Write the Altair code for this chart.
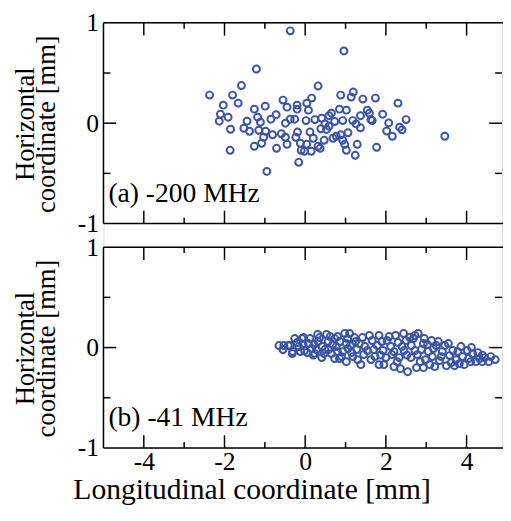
import altair as alt
import pandas as pd

# ---- data: panel (a) -200 MHz ----
a_x = [-2.37, -1.21, -1.58, -1.80, -1.66, -2.03, -2.10, -1.91, -2.13, -1.85, -1.86, -1.26, -0.99,
       -1.18, -1.44, -1.11, -1.52, -1.38, -1.15, -0.98, -1.03, -1.26, -1.08, -0.71, -0.95, -0.72,
       -0.85, -0.55, -0.45, -0.49, -0.37, -0.81, -0.59, -0.49, -0.45, -0.37, 0.96, 0.32, 0.88,
       1.19, 1.14, 1.43, 1.74, 2.30, 0.16, 0.04, -0.20, -0.20, 0.08, 0.85, 1.02, 0.65, 0.59,
       1.54, 1.59, 1.37, 1.92, 1.63, 1.66, 1.18, 0.93, 0.24, 0.41, -0.26, 0.02, 0.73, 0.49,
       0.59, 1.26, 1.37, 2.07, 2.50, 0.39, 0.53, -0.19, 0.12, 1.06, 2.02, 2.40, 2.34, 2.16,
       3.46, -0.23, 0.20, 0.77, 0.69, 0.88, 0.93, 0.47, -0.12, 0.04, -0.10, 0.15, -0.02, 0.32,
       0.37, 0.98, 1.02, 1.29, 1.24, 1.77, -0.16]
a_y = [0.28, 0.54, 0.375, 0.28, 0.20, 0.18, 0.09, 0.06, 0.02, -0.06, -0.27, 0.14, 0.17,
       0.06, 0.02, 0.01, -0.05, -0.08, -0.07, -0.08, -0.14, -0.23, -0.20, -0.25, -0.48, 0.085,
       0.04, 0.23, 0.16, 0.0, 0.04, -0.115, -0.105, -0.14, -0.21, 0.92, 0.72, 0.37, 0.28,
       0.31, 0.26, 0.24, 0.25, 0.20, 0.25, 0.20, 0.18, 0.14, 0.13, 0.14, 0.13, 0.10, 0.075,
       0.13, 0.10, 0.075, 0.09, 0.036, 0.026, 0.026, 0.026, 0.036, 0.05, 0.04, 0.026, 0.017, -0.007,
       -0.03, -0.007, -0.046, 0.003, 0.036, -0.056, -0.062, -0.088, -0.088, -0.095, -0.078, -0.066, -0.04, -0.13,
       -0.13, -0.14, -0.15, -0.13, -0.15, -0.115, -0.17, -0.17, -0.20, -0.21, -0.27, -0.28, -0.28, -0.23,
       -0.25, -0.21, -0.27, -0.21, -0.32, -0.24, -0.39]

# ---- data: panel (b) -41 MHz ----
b_x = [-0.65, -0.53, -0.42, -0.37, -0.32, -0.26, -0.31, -0.16, -0.08, -0.04, -0.02, -0.12, 0.08,
       0.16, 0.20, 0.31, 0.32, 0.24, 0.41, 0.53, 0.57, 0.49, 0.65, 0.73, 0.77, 0.73, 0.85, 0.80,
       0.98, 1.02, 0.93, 1.02, 1.10, 1.06, 1.18, 1.22, 1.34, 1.38, 1.59, 1.54, 1.63, 1.83, 1.79,
       1.87, 1.95, 1.83, 2.03, 2.24, 2.20, 2.28, 2.20, 2.36, 2.44, 2.40, 2.52, 2.54, 2.59, 2.68,
       2.72, 2.80, 2.85, 2.76, 2.93, 2.93, 3.13, 3.05, 3.09, 3.21, 3.25, 3.37, 3.46, 3.50, 3.66,
       3.70, 3.74, 3.86, 3.94, 4.02, 4.10, 4.15, 4.23, 4.39, 4.39, 4.55, 4.71,
       -0.55, -0.20, -0.05, 0.05, 0.12, 0.22, 0.28, 0.36, 0.42, 0.47, 0.58, 0.62, 0.68, 0.80,
       0.86, 0.90, 1.05, 1.12, 1.15, 1.25, 1.28, 1.30, 1.42, 1.45, 1.48, 1.66, 1.70, 1.73, 1.90,
       1.93, 2.00, 2.08, 2.12, 2.15, 2.30, 2.33, 2.45, 2.50, 2.62, 2.63, 2.72, 2.78, 2.88, 2.95,
       2.98, 3.03, 3.15, 3.18, 3.30, 3.33, 3.40, 3.55, 3.58, 3.62, 3.78, 3.82, 3.90, 4.05, 4.12,
       4.28, 4.32, 4.45, 4.60]
b_y = [0.02, 0.02, 0.02, 0.02, -0.06, 0.09, -0.04, 0.01, 0.09, 0.10, -0.03, -0.04, 0.04,
       -0.01, -0.075, 0.13, 0.06, -0.06, -0.10, 0.13, 0.06, -0.02, -0.06, 0.09, 0.01, -0.11, -0.11, 0.11,
       0.14, 0.04, -0.04, -0.14, 0.14, -0.01, -0.09, 0.10, 0.04, -0.17, 0.12, -0.03, -0.12, 0.12, 0.02,
       -0.075, -0.17, -0.17, 0.07, 0.12, -0.04, -0.14, -0.19, -0.21, 0.14, 0.01, -0.075, -0.24, 0.10, 0.09,
       -0.03, 0.14, -0.14, -0.20, 0.04, -0.20, 0.07, -0.04, -0.17, -0.19, 0.02, -0.09, 0.02, -0.18, -0.03,
       -0.18, -0.12, 0.01, -0.17, -0.03, -0.14, -0.06, -0.14, -0.075, -0.14, -0.14, -0.12,
       -0.02, 0.05, 0.03, -0.05, 0.09, 0.03, -0.02, 0.10, 0.01, -0.06, -0.02, 0.11, 0.03, -0.04,
       0.06, -0.09, 0.09, 0.02, -0.05, 0.06, -0.02, -0.12, 0.10, -0.07, 0.01, 0.07, -0.02, -0.09, 0.06,
       -0.03, -0.10, 0.11, 0.01, -0.07, 0.05, -0.10, -0.03, 0.07, -0.10, 0.02, 0.12, -0.07, -0.02, 0.09,
       -0.12, 0.03, -0.09, -0.01, 0.06, -0.13, -0.04, 0.04, -0.08, -0.15, -0.04, -0.16, -0.09, -0.11, 0.00,
       -0.05, -0.11, -0.10, -0.09]

# ---- axis ticks / labels / texts ----
x_label_values = [-4, -2, 0, 2, 4]
x_major_ticks = [-4, -2, 0, 2, 4]
x_minor_ticks = [-3, -1, 1, 3]
y_label_values = [-1, 0, 1]
y_major_ticks = [0]
y_minor_ticks = [-0.5, 0.5]
panel_labels = ["(a) -200 MHz", "(b) -41 MHz"]
x_title = "Longitudinal coordinate [mm]"
y_title = ["Horizontal", "coordinate [mm]"]

# ---- layout (pixels) ----
W = 405                 # plot width; frame's right edge is cut by the page edge
PH = 204                # height of one panel
GAP = 24                # gap between the two panels
HT = 2 * PH + GAP
OFF = 2 + GAP / (PH / 2)  # shift of panel (b) in the shared y coordinate
COLOR = "#3b54a5"
FONT = "Liberation Serif"
FS_TICK = 26
FS_YT = 27
FS_XT = 30
FS_PANEL = 28
MAJ, MIN = 13, 6
LW = 1.5

xscale = alt.Scale(domain=[-5, -5 + W / 41.0], nice=False, zero=False)
yscale = alt.Scale(domain=[-1 - OFF, 1], nice=False, zero=False)

x_axis = alt.Axis(values=x_label_values, ticks=False, domain=False, grid=False,
                  labelFont=FONT, labelFontSize=FS_TICK, labelColor="black", labelPadding=1,
                  labelFlush=False, labelOverlap=False, labelExpr="toString(datum.value)",
                  title=None)
y_tick_positions = y_label_values + [v - OFF for v in y_label_values]
y_axis = alt.Axis(values=y_tick_positions, ticks=False, domain=False, grid=False,
                  labelFont=FONT, labelFontSize=FS_TICK, labelColor="black", labelPadding=5,
                  labelFlush=False, labelOverlap=False,
                  labelExpr=f"toString(round(datum.value > -1.1 ? datum.value : datum.value + {OFF}))",
                  title=None)

X = lambda f: alt.X(f, scale=xscale, axis=x_axis)
Y = lambda f: alt.Y(f, scale=yscale, axis=y_axis)


def panel_layers(xs, ys, label, k):
    off = OFF * k
    ptop = (PH + GAP) * k
    L = []
    L.append(alt.Chart(pd.DataFrame({"x": xs, "y": ys}))
             .transform_calculate(yp=f"datum.y - {off}")
             .mark_point(shape="circle", filled=False, size=50, strokeWidth=2, color=COLOR, opacity=1)
             .encode(x=X("x:Q"), y=Y("yp:Q")))
    # frame: left, top and bottom edges
    L.append(alt.Chart(pd.DataFrame({"t": [1 - off], "b": [-1 - off]}))
             .mark_rule(color="black", strokeWidth=LW)
             .encode(x=alt.value(0), y=Y("t:Q"), y2="b:Q"))
    L.append(alt.Chart(pd.DataFrame({"e": [1 - off, -1 - off]}))
             .mark_rule(color="black", strokeWidth=LW)
             .encode(y=Y("e:Q"), x=alt.value(0), x2=alt.value(W + 2)))
    # inward x ticks at top and bottom of the panel
    for vals, ln in ((x_major_ticks, MAJ), (x_minor_ticks, MIN)):
        tdf = pd.DataFrame({"x": vals})
        for y0, y1 in ((ptop, ptop + ln), (ptop + PH, ptop + PH - ln)):
            L.append(alt.Chart(tdf).mark_rule(color="black", strokeWidth=LW)
                     .encode(x=X("x:Q"), y=alt.value(y0), y2=alt.value(y1)))
    # inward y ticks on left and right
    for vals, ln in ((y_major_ticks, MAJ), (y_minor_ticks, MIN + 1)):
        tdf = pd.DataFrame({"y": [v - off for v in vals]})
        for x0, x1 in ((0, ln), (W, W - ln)):
            L.append(alt.Chart(tdf).mark_rule(color="black", strokeWidth=LW)
                     .encode(y=Y("y:Q"), x=alt.value(x0), x2=alt.value(x1)))
    # panel label
    L.append(alt.Chart(pd.DataFrame({"t": [label]}))
             .mark_text(align="left", baseline="alphabetic", font=FONT, fontSize=FS_PANEL, color="black")
             .encode(x=alt.value(5), y=alt.value(ptop + PH - 22), text="t:N"))
    # rotated two-line y title
    for line, xo in zip(y_title, (-71, -49)):
        L.append(alt.Chart(pd.DataFrame({"t": [line]}))
                 .mark_text(align="center", baseline="alphabetic", angle=270, font=FONT,
                            fontSize=FS_YT, color="black")
                 .encode(x=alt.value(xo), y=alt.value(ptop + PH / 2 + 1), text="t:N"))
    return L


layers = panel_layers(a_x, a_y, panel_labels[0], 0) + panel_layers(b_x, b_y, panel_labels[1], 1)
layers.append(alt.Chart(pd.DataFrame({"t": [x_title]}))
              .mark_text(align="center", baseline="alphabetic", font=FONT, fontSize=FS_XT, color="black")
              .encode(x=alt.value(151), y=alt.value(HT + 52), text="t:N"))

chart = alt.layer(*layers).properties(
    width=W, height=HT,
    autosize=alt.AutoSizeParams(type="none"),
    padding={"left": 97, "top": 11, "right": 1, "bottom": 60},
).configure_view(stroke="transparent").configure(background="white")

chart.save("out.html", embed_options={"renderer": "svg", "actions": False})
